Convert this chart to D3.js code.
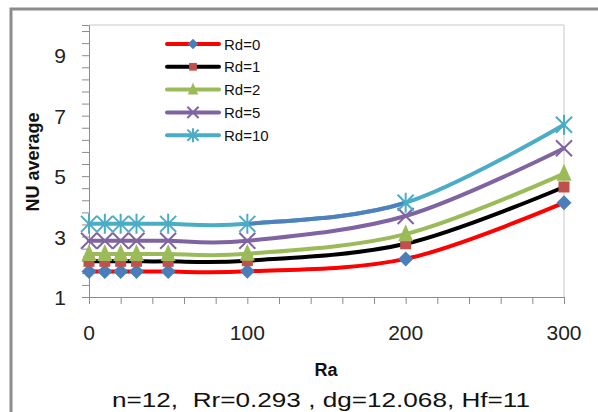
<!DOCTYPE html>
<html>
<head>
<meta charset="utf-8">
<script src="https://cdn.jsdelivr.net/npm/d3@7"></script>
<style>
  body { margin: 0; background: #fff; }
  text { font-family: "Liberation Sans", Arial, sans-serif; white-space: pre; }
</style>
</head>
<body>
<svg width="598" height="412"></svg>
<script>
// data
var ra = [0, 10, 20, 30, 50, 100, 200, 300];
var seriesNames = ['Rd=0', 'Rd=1', 'Rd=2', 'Rd=5', 'Rd=10'];
var rd0  = [1.84, 1.84, 1.84, 1.84, 1.84, 1.85, 2.26, 4.12];
var rd1  = [2.18, 2.18, 2.18, 2.18, 2.18, 2.2, 2.76, 4.64];
var rd2  = [2.42, 2.42, 2.42, 2.42, 2.42, 2.43, 3.08, 5.08];
var rd5  = [2.86, 2.86, 2.86, 2.86, 2.86, 2.86, 3.68, 5.92];
var rd10 = [3.42, 3.42, 3.42, 3.42, 3.42, 3.42, 4.12, 6.7];
var xTickLabels = [0, 100, 200, 300];
var yTickLabels = [1, 3, 5, 7, 9];

var allSeries = [rd0, rd1, rd2, rd5, rd10];
var lineColors = ['#ff0000', '#000000', '#9bbb59', '#8064a2', '#4bacc6'];
var markerColors = ['#4a7ebb', '#c0504d', '#9bbb59', '#8064a2', '#4bacc6'];
var markerTypes = ['diamond', 'square', 'triangle', 'x', 'star'];

var svg = d3.select('svg');

// outer chart frame
svg.append('path')
  .attr('d', 'M11,420 L11,9 L610,9')
  .attr('fill', 'none')
  .attr('stroke', '#8c8c8c')
  .attr('stroke-width', 3);

var plot = { left: 89, right: 564, top: 25, bottom: 297 };

var x = d3.scaleLinear().domain([0, 300]).range([plot.left, plot.right]);
var y = d3.scaleLinear().domain([1, 10]).range([plot.bottom, plot.top]);

// plot area border (top/right)
svg.append('path')
  .attr('d', 'M' + plot.left + ',' + plot.top + ' L' + plot.right + ',' + plot.top + ' L' + plot.right + ',' + plot.bottom)
  .attr('fill', 'none')
  .attr('stroke', '#c8c8c8')
  .attr('stroke-width', 1);

// x axis, minor ticks every 20
var xAxis = svg.append('g')
  .attr('transform', 'translate(0,' + plot.bottom + ')')
  .call(d3.axisBottom(x).tickValues(d3.range(0, 301, 20)).tickSize(7).tickFormat(''));
xAxis.select('.domain').attr('stroke', '#8c8c8c');
xAxis.selectAll('.tick line').attr('stroke', '#8c8c8c');

svg.append('g').selectAll('text')
  .data(xTickLabels)
  .enter().append('text')
  .attr('x', function (d) { return x(d); })
  .attr('y', 340)
  .attr('text-anchor', 'middle')
  .attr('font-size', 21)
  .attr('fill', '#222')
  .text(function (d) { return d; });

// y axis, ticks every 0.4
var yAxis = svg.append('g')
  .attr('transform', 'translate(' + plot.left + ',0)')
  .call(d3.axisLeft(y).tickValues(d3.range(1, 10.01, 0.4)).tickSize(7).tickFormat(''));
yAxis.select('.domain').attr('stroke', '#8c8c8c');
yAxis.selectAll('.tick line').attr('stroke', '#8c8c8c');

svg.append('g').selectAll('text')
  .data(yTickLabels)
  .enter().append('text')
  .attr('x', 66)
  .attr('y', function (d) { return y(d) + 8; })
  .attr('text-anchor', 'end')
  .attr('font-size', 21)
  .attr('fill', '#222')
  .text(function (d) { return d; });

// axis titles
svg.append('text')
  .attr('transform', 'translate(39,162) rotate(-90)')
  .attr('text-anchor', 'middle')
  .attr('font-size', 18)
  .attr('font-weight', 'bold')
  .attr('fill', '#111')
  .text('NU average');

svg.append('text')
  .attr('x', 326)
  .attr('y', 376)
  .attr('text-anchor', 'middle')
  .attr('font-size', 18)
  .attr('font-weight', 'bold')
  .attr('fill', '#111')
  .text('Ra');

svg.append('text')
  .attr('x', 112)
  .attr('y', 407)
  .attr('font-size', 21)
  .attr('textLength', 418)
  .attr('lengthAdjust', 'spacingAndGlyphs')
  .attr('fill', '#111')
  .text('n=12,  Rr=0.293 , dg=12.068, Hf=11');

// marker drawing, s = scale
function drawMarker(g, type, color, cx, cy, s) {
  var p = d3.path();
  if (type === 'diamond') {
    p.moveTo(cx, cy - 7.5 * s); p.lineTo(cx + 7.5 * s, cy); p.lineTo(cx, cy + 7.5 * s); p.lineTo(cx - 7.5 * s, cy); p.closePath();
    g.append('path').attr('d', p.toString()).attr('fill', color);
  } else if (type === 'square') {
    g.append('rect').attr('x', cx - 5.5 * s).attr('y', cy - 5.5 * s).attr('width', 11 * s).attr('height', 11 * s)
      .attr('fill', color);
  } else if (type === 'triangle') {
    p.moveTo(cx, cy - 10 * s); p.lineTo(cx + 7.5 * s, cy + 7 * s); p.lineTo(cx - 7.5 * s, cy + 7 * s); p.closePath();
    g.append('path').attr('d', p.toString()).attr('fill', color);
  } else {
    var r = 8 * s;
    p.moveTo(cx - r, cy - r); p.lineTo(cx + r, cy + r);
    p.moveTo(cx + r, cy - r); p.lineTo(cx - r, cy + r);
    if (type === 'star') { p.moveTo(cx, cy - 10 * s); p.lineTo(cx, cy + 10 * s); }
    g.append('path').attr('d', p.toString())
      .attr('stroke', color).attr('stroke-width', 2).attr('fill', 'none');
  }
}

var line = d3.line()
  .x(function (d, i) { return x(ra[i]); })
  .y(function (d) { return y(d); })
  .curve(d3.curveCardinal.tension(0));

// clip for the blue-ish stretch of the Rd=10 curve between Ra=100 and 200
svg.append('clipPath').attr('id', 'mid')
  .append('rect').attr('x', x(100)).attr('y', 0).attr('width', x(200) - x(100)).attr('height', 412);

allSeries.forEach(function (s, k) {
  var g = svg.append('g');
  g.append('path')
    .attr('d', line(s))
    .attr('fill', 'none')
    .attr('stroke', lineColors[k])
    .attr('stroke-width', 4)
    .attr('stroke-linecap', 'round');
  if (k === 4) {
    g.append('path')
      .attr('d', line(s))
      .attr('fill', 'none')
      .attr('stroke', '#4f81bd')
      .attr('stroke-width', 4)
      .attr('clip-path', 'url(#mid)');
  }
  s.forEach(function (v, i) {
    drawMarker(g, markerTypes[k], markerColors[k], x(ra[i]), y(v), 1);
  });
});

// legend
var legend = svg.append('g');
seriesNames.forEach(function (name, k) {
  var ly = 44 + k * 22.8;
  legend.append('line')
    .attr('x1', 167).attr('x2', 219).attr('y1', ly).attr('y2', ly)
    .attr('stroke', lineColors[k]).attr('stroke-width', 4).attr('stroke-linecap', 'round');
  drawMarker(legend, markerTypes[k], markerColors[k], 193, ly, 0.7);
  legend.append('text')
    .attr('x', 224).attr('y', ly + 5.5)
    .attr('font-size', 15)
    .attr('fill', '#111')
    .text(name);
});
</script>
</body>
</html>
